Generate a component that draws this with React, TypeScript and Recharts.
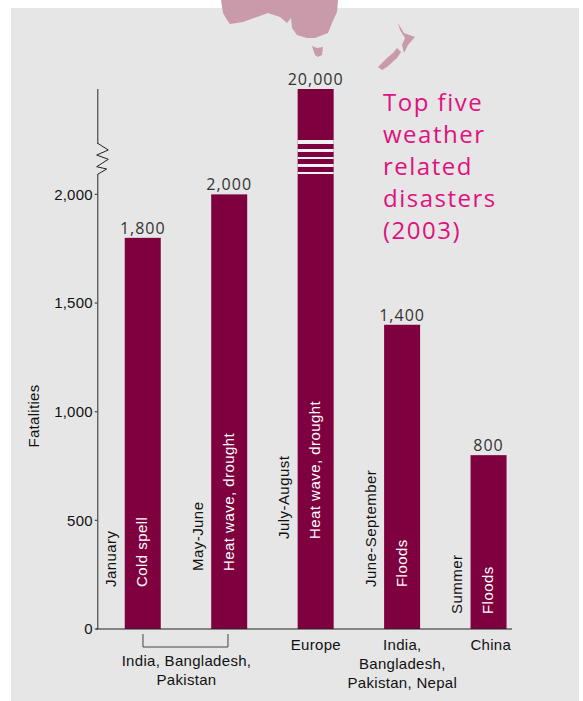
import React from 'react';
import { BarChart, Bar, XAxis, YAxis, LabelList } from 'recharts';

const eventIds = ['cold', 'heat-asia', 'heat-europe', 'floods-asia', 'floods-china'];
const fatalities = [1800, 2000, 20000, 1400, 800];
const disasterTypes = ['Cold spell', 'Heat wave, drought', 'Heat wave, drought', 'Floods', 'Floods'];
const periods = ['January', 'May-June', 'July-August', 'June-September', 'Summer'];
const regionLines = [
  ['India, Bangladesh,', 'Pakistan'],
  [],
  ['Europe'],
  ['India,', 'Bangladesh,', 'Pakistan, Nepal'],
  ['China'],
];
const yTicks = [0, 500, 1000, 1500, 2000];
const titleLines = ['Top five', 'weather', 'related', 'disasters', '(2003)'];

const data = eventIds.map((id, i) => ({
  id,
  fatalities: fatalities[i],
  type: disasterTypes[i],
  period: periods[i],
}));

const BAR_COLOR = '#7e003f';
const PANEL = '#e6e6e6';
const MAP_COLOR = '#c99aa9';
const FONT = '"Liberation Sans", Arial, sans-serif';
const LIGHT_FONT = '"Open Sans", sans-serif';

// how far above the baseline the rotated text starts in each bar
const textLift = [42, 58, 90, 42, 15];
// white cuts across the off-scale bar, px below the plot top
const cuts = [[51, 4], [60, 3], [68, 2], [75, 3], [83, 2]];
const PLOT_TOP = 89;
const BASELINE = 629;

const BrokenBar = (props: any) => {
  const { x, y, width, height, payload } = props;
  const off = payload.fatalities > 2500;
  return (
    <g>
      <rect x={x} y={y} width={width} height={height} fill={BAR_COLOR} />
      {off &&
        cuts.map(([dy, h]) => (
          <rect key={dy} x={x} y={PLOT_TOP + dy} width={width} height={h} fill="#f1f1f1" />
        ))}
    </g>
  );
};

const ValueLabel = (props: any) => {
  const { x, y, width, value } = props;
  return (
    <text
      x={x + width / 2}
      y={Math.max(y, PLOT_TOP) - 4}
      textAnchor="middle"
      fontFamily={LIGHT_FONT}
      fontSize={16}
      letterSpacing={1}
      fill="#333"
    >
      {Number(value).toLocaleString('en-US')}
    </text>
  );
};

const RotatedLabel = ({ px, py, text, fill }: any) => (
  <text
    transform={`translate(${px},${py}) rotate(-90)`}
    dominantBaseline="central"
    fontFamily={FONT}
    fontSize={15}
    letterSpacing={0.45}
    fill={fill}
  >
    {text}
  </text>
);

const TypeLabel = (props: any) => {
  const { x, width, index } = props;
  return (
    <g>
      <RotatedLabel px={x + width / 2 - 1} py={BASELINE - textLift[index]} text={disasterTypes[index]} fill="#fff" />
      <RotatedLabel px={x - 14} py={BASELINE - textLift[index]} text={periods[index]} fill="#111" />
    </g>
  );
};

const RegionTick = (props: any) => {
  const { x, index } = props;
  const lines = regionLines[index];
  if (!lines.length) return null;
  if (index === 0) {
    return (
      <g>
        <path d={`M${x} 634V647H${x + 85}V634`} fill="none" stroke="#444" strokeWidth={1} />
        {lines.map((line, i) => (
          <text key={line} x={x + 43.5} y={666 + i * 19} textAnchor="middle" fontFamily={FONT} fontSize={15} letterSpacing={0.3} fill="#111">
            {line}
          </text>
        ))}
      </g>
    );
  }
  return (
    <g>
      {lines.map((line, i) => (
        <text key={line} x={x + (index === 4 ? 2 : 0)} y={650 + i * 19} textAnchor="middle" fontFamily={FONT} fontSize={15} letterSpacing={0.3} fill="#111">
          {line}
        </text>
      ))}
    </g>
  );
};

const AxisTitle = () => (
  <text
    transform="translate(33,416) rotate(-90)"
    textAnchor="middle"
    dominantBaseline="central"
    fontFamily={FONT}
    fontSize={15}
    letterSpacing={0.3}
    fill="#111"
  >
    Fatalities
  </text>
);

const App = () => {
  return (
    <div style={{ position: 'absolute', left: 0, top: 0, width: 583, height: 701, background: '#fff', overflow: 'hidden' }}>
      <div style={{ position: 'absolute', left: 11, top: 8, width: 568, height: 693, background: PANEL }} />
      <svg width={583} height={701} style={{ position: 'absolute', left: 0, top: 0 }}>
        <g fill={MAP_COLOR}>
          <path d="M221 0L223 13L227 20L230 24L243 22L257 17L268 13L280 17L287 23L291 18L292 28L297 35L307 38L315 38L328 33L332 23L337 12L338 0Z" />
          <path d="M312 46L317 48L323 47L322 55L318 57L315 55Z" />
          <path d="M398 23L404 33L415 37L408 45L404 53L402 45L405 38L400 30Z" />
          <path d="M397 48L401 52L397 58L387 67L382 70L378 67L387 58L393 53Z" />
        </g>
        <g fontFamily={LIGHT_FONT} fontSize={24} letterSpacing={1.5} fill="#e0107f">
          {titleLines.map((line, i) => (
            <text key={line} x={383} y={111 + i * 32}>
              {line}
            </text>
          ))}
        </g>
      </svg>
      <div style={{ position: 'absolute', left: 0, top: 0 }}>
        <BarChart
          width={583}
          height={701}
          data={data}
          barSize={36}
          margin={{ top: PLOT_TOP, right: 51, bottom: 0, left: 0 }}
        >
          <XAxis
            dataKey="id"
            height={701 - BASELINE}
            axisLine={false}
            tickLine={false}
            padding={{ left: 2, right: 0 }}
            tick={<RegionTick />}
            interval={0}
          />
          <YAxis
            width={97.75}
            type="number"
            domain={[0, 2485]}
            allowDataOverflow
            ticks={yTicks}
            tickSize={3}
            tickMargin={2}
            tickFormatter={(v: number) => v.toLocaleString('en-US')}
            tick={{ fontFamily: FONT, fontSize: 15, letterSpacing: 0.2, fill: '#111' }}
            stroke="#555"
            strokeWidth={1.3}
            label={<AxisTitle />}
          />
          <Bar dataKey="fatalities" shape={<BrokenBar />} isAnimationActive={false}>
            <LabelList dataKey="fatalities" content={<ValueLabel />} />
            <LabelList dataKey="type" content={<TypeLabel />} />
          </Bar>
        </BarChart>
      </div>
      <svg width={583} height={701} style={{ position: 'absolute', left: 0, top: 0, pointerEvents: 'none' }}>
        <line x1={96} x2={512} y1={BASELINE} y2={BASELINE} stroke="#222" strokeWidth={1} />
        <rect x={96} y={144} width={4} height={30} fill={PANEL} />
        <path d="M97.7 143.3L108.3 150L96.7 155L108.3 159.3L96.7 166.7L106.7 169L97.7 174.3" fill="none" stroke="#222" strokeWidth={1} />
      </svg>
    </div>
  );
};

export default App;
